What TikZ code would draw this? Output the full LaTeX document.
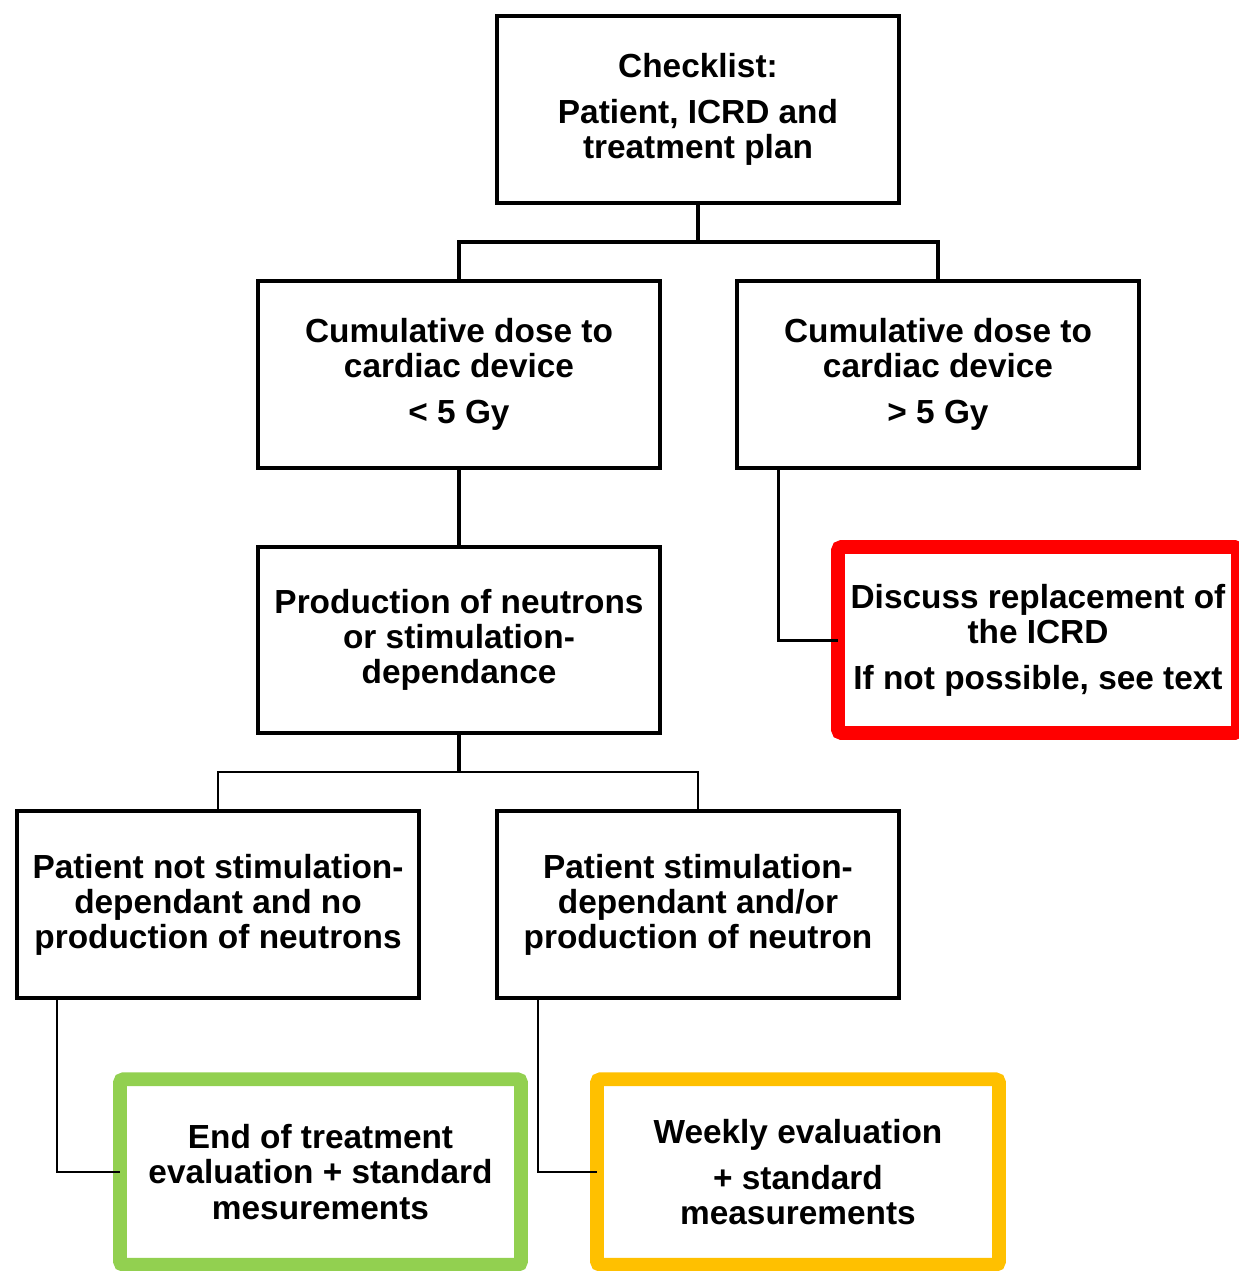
\documentclass[tikz,border=0pt]{standalone}
\usepackage{fontspec}
\setmainfont{Liberation Sans}
\usetikzlibrary{positioning}
\definecolor{cred}{HTML}{FF0000}
\definecolor{cgreen}{HTML}{92D050}
\definecolor{corange}{HTML}{FFC000}
\tikzset{
  box/.style={draw=black, line width=2pt, rectangle, outer sep=0pt, inner sep=0pt,
    minimum width=8.04cm, minimum height=3.74cm, align=center,
    font=\fontsize{19}{20}\selectfont\bfseries},
  cbox/.style={box, line width=7.9pt, rounded corners=2pt, draw=#1},
  conn/.style={draw=black, line width=2.2pt},
  thinconn/.style={draw=black, line width=1.3pt},
}
\begin{document}
\begin{tikzpicture}[x=0.02cm,y=-0.02cm]
\fill[white] (0,0) rectangle (1239,1271);
\useasboundingbox (0,0) rectangle (1239,1271);

\node[box] (top) at (698,109.5) {Checklist:\\[6pt]Patient, ICRD and\\treatment plan};
\node[box] (lm) at (459,374.5) {Cumulative dose to\\cardiac device\\[6pt]< 5 Gy};
\node[box] (rm) at (938,374.5) {Cumulative dose to\\cardiac device\\[6pt]> 5 Gy};
\node[box, minimum height=3.72cm] (prod) at (459,640) {Production of neutrons\\or stimulation-\\dependance};
\node[cbox=cred, minimum width=8.0cm, minimum height=3.72cm] (red) at (1038,640) {Discuss replacement of\\the ICRD\\[6pt]If not possible, see text};
\node[box] (pn) at (218,904.5) {Patient not stimulation-\\dependant and no\\production of neutrons};
\node[box] (ps) at (698,904.5) {Patient stimulation-\\dependant and/or\\production of neutron};
\node[cbox=cgreen, minimum width=8.02cm, minimum height=3.71cm] (green) at (320.5,1172) {End of treatment\\evaluation + standard\\mesurements};
\node[cbox=corange, minimum width=8.04cm, minimum height=3.71cm] (orange) at (798,1172) {Weekly evaluation\\[6pt]+ standard\\measurements};

\draw[conn] (top.south) -- ++(0,39) -| (lm.north);
\draw[conn] (top.south) -- ++(0,39) -| (rm.north);
\draw[conn] (lm.south) -- (prod.north);
\draw[conn, line width=1.7pt] ([xshift=0.82cm]rm.south west) |- (red.west);
\draw[conn] (prod.south) -- ++(0,39);
\draw[thinconn] (prod.south) ++(0,39) coordinate (pj) -| (pn.north);
\draw[thinconn] (pj) -| (ps.north);
\draw[thinconn] ([xshift=0.8cm]pn.south west) |- (green.west);
\draw[thinconn] ([xshift=0.82cm]ps.south west) |- (orange.west);
\end{tikzpicture}
\end{document}
